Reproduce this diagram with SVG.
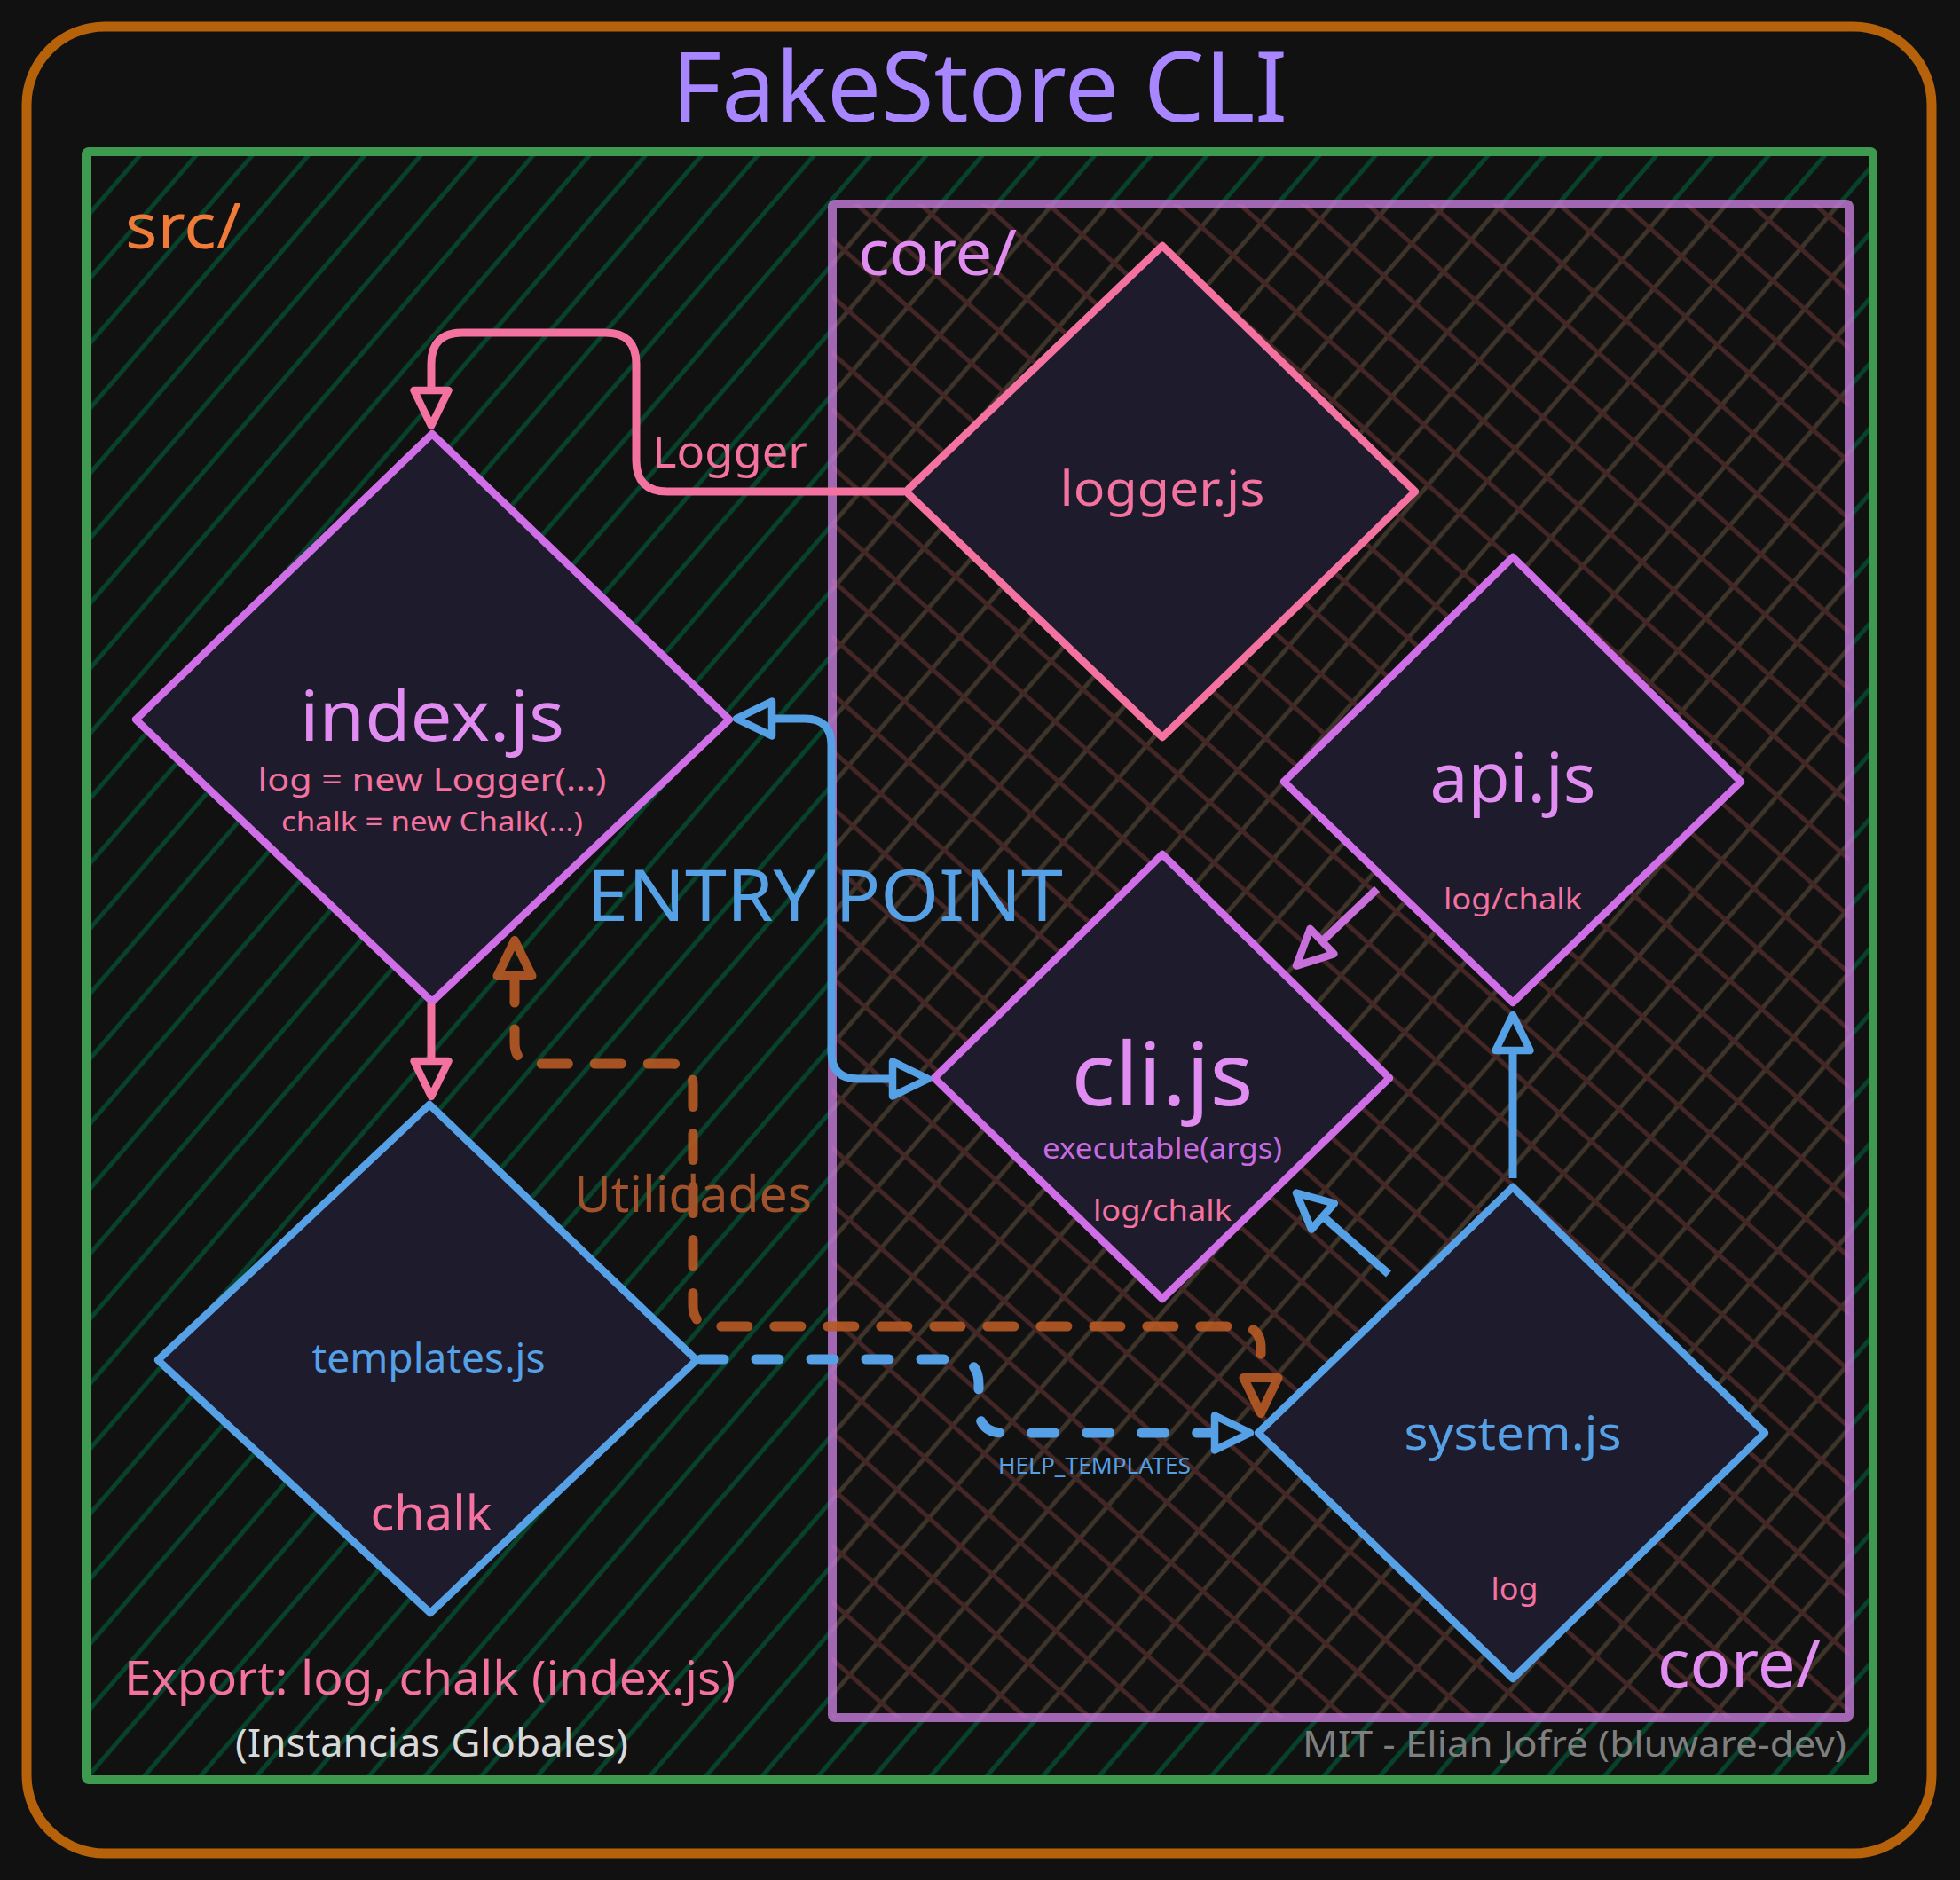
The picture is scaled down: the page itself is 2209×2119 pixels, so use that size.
<svg xmlns="http://www.w3.org/2000/svg" width="2209" height="2119" viewBox="0 0 2209 2119">
<style>
text{font-family:"Noto Sans","Open Sans","Liberation Sans",sans-serif}
.nd{fill:#1e1b2c;stroke-width:8.5;stroke-linejoin:round}
.vi{stroke:#d06ee8}
.pk{stroke:#f372a0}
.bl{stroke:#56a0e6}
.e{fill:none;stroke-width:9}
.tv{fill:#e08cf0}
.tp{fill:#f372a0}
.tb{fill:#56a0e6}
</style>
<defs>
<pattern id="gh" patternUnits="userSpaceOnUse" x="55.8" y="0" width="63.3" height="73.3">
<path d="M-10,84.9 L73.3,-11.6 M-10,11.6 L10,-11.6 M53.3,84.9 L73.3,61.7" stroke="#07432b" stroke-width="5" fill="none"/>
</pattern>
<pattern id="ch1" patternUnits="userSpaceOnUse" x="55.8" y="0" width="63.3" height="73.3">
<path d="M-10,84.9 L73.3,-11.6 M-10,11.6 L10,-11.6 M53.3,84.9 L73.3,61.7" stroke="#3e342a" stroke-width="5" fill="none"/>
</pattern>
<pattern id="ch2" patternUnits="userSpaceOnUse" x="0" y="12.3" width="72" height="64">
<path d="M-10,-8.9 L82,72.9 M-10,55.1 L10,72.9 M62,-8.9 L82,8.9" stroke="#452626" stroke-width="5" fill="none"/>
</pattern>
<marker id="mp" markerUnits="userSpaceOnUse" viewBox="-10 -30 60 60" markerWidth="60" markerHeight="60" refX="0" refY="0" orient="auto-start-reverse">
<path d="M40,0 L0,-19.5 L0,19.5 Z" fill="#111" stroke="#f372a0" stroke-width="8.5" stroke-linejoin="round"/>
</marker>
<marker id="mb" markerUnits="userSpaceOnUse" viewBox="-10 -30 60 60" markerWidth="60" markerHeight="60" refX="0" refY="0" orient="auto-start-reverse">
<path d="M40,0 L0,-19.5 L0,19.5 Z" fill="#111" stroke="#56a0e6" stroke-width="8.5" stroke-linejoin="round"/>
</marker>
<marker id="mv" markerUnits="userSpaceOnUse" viewBox="-10 -30 60 60" markerWidth="60" markerHeight="60" refX="0" refY="0" orient="auto-start-reverse">
<path d="M40,0 L0,-19.5 L0,19.5 Z" fill="#111" stroke="#c86fdc" stroke-width="8.5" stroke-linejoin="round"/>
</marker>
<marker id="mo" markerUnits="userSpaceOnUse" viewBox="-10 -30 60 60" markerWidth="60" markerHeight="60" refX="0" refY="0" orient="auto-start-reverse">
<path d="M40,0 L0,-19.5 L0,19.5 Z" fill="#111" stroke="#b85a24" stroke-width="10" stroke-linejoin="round"/>
</marker>
</defs>
<rect width="2209" height="2119" fill="#111"/>
<g id="frame">
<rect x="30" y="30" width="2147" height="2059" rx="88" fill="#111" stroke="#b5620a" stroke-width="11"/>
<text x="1104" y="137" font-size="110" fill="#a786ff" text-anchor="middle" textLength="694" lengthAdjust="spacingAndGlyphs">FakeStore CLI</text>
</g>
<g id="src">
<rect x="97" y="171" width="2014" height="1835" fill="#111"/>
<rect x="97" y="171" width="2014" height="1835" fill="url(#gh)"/>
<rect x="97" y="171" width="2014" height="1835" rx="3" fill="none" stroke="#3d9a4e" stroke-width="10"/>
<text x="141" y="280" font-size="72" fill="#f07b38" textLength="131" lengthAdjust="spacingAndGlyphs">src/</text>
</g>
<g id="core">
<rect x="938" y="230" width="1146" height="1706" fill="#111"/>
<rect x="938" y="230" width="1146" height="1706" fill="url(#ch1)"/>
<rect x="938" y="230" width="1146" height="1706" fill="url(#ch2)"/>
<rect x="938" y="230" width="1146" height="1706" rx="3" fill="none" stroke="#c77ddb" stroke-opacity="0.8" stroke-width="10"/>
<text x="967" y="310" font-size="72" class="tv" textLength="179" lengthAdjust="spacingAndGlyphs">core/</text>
<text x="1868" y="1902" font-size="74" class="tv" textLength="184" lengthAdjust="spacingAndGlyphs">core/</text>
</g>
<g id="nodes">
<g id="node-logger">
<polygon points="1310,277 1595,554 1310,831 1021,554" class="nd pk"/>
<text x="1310" y="570" font-size="54" class="tp" text-anchor="middle" textLength="231" lengthAdjust="spacingAndGlyphs">logger.js</text>
</g>
<g id="node-index">
<polygon points="487,489 822,811 487,1129 153,811" class="nd vi"/>
<text x="487" y="835" font-size="78" class="tv" text-anchor="middle" textLength="298" lengthAdjust="spacingAndGlyphs">index.js</text>
<text x="487" y="891" font-size="35" class="tp" text-anchor="middle" textLength="393" lengthAdjust="spacingAndGlyphs">log = new Logger(...)</text>
<text x="487" y="937" font-size="30" class="tp" text-anchor="middle" textLength="340" lengthAdjust="spacingAndGlyphs">chalk = new Chalk(...)</text>
</g>
<g id="node-templates">
<polygon points="484,1245 785,1533 485,1818 178,1533" class="nd bl"/>
<text x="483" y="1547" font-size="46" class="tb" text-anchor="middle" textLength="263" lengthAdjust="spacingAndGlyphs">templates.js</text>
<text x="486" y="1725" font-size="54" class="tp" text-anchor="middle" textLength="137" lengthAdjust="spacingAndGlyphs">chalk</text>
</g>
<g id="node-cli">
<polygon points="1310,963 1566,1215 1310,1464 1053,1215" class="nd vi"/>
<text x="1310" y="1246" font-size="98" class="tv" text-anchor="middle" textLength="205" lengthAdjust="spacingAndGlyphs">cli.js</text>
<text x="1310" y="1306" font-size="32" fill="#c96be0" text-anchor="middle" textLength="270" lengthAdjust="spacingAndGlyphs">executable(args)</text>
<text x="1310" y="1376" font-size="33" class="tp" text-anchor="middle" textLength="156" lengthAdjust="spacingAndGlyphs">log/chalk</text>
</g>
<g id="node-api">
<polygon points="1705,628 1962,881 1705,1130 1447,881" class="nd vi"/>
<text x="1705" y="904" font-size="76" class="tv" text-anchor="middle" textLength="187" lengthAdjust="spacingAndGlyphs">api.js</text>
<text x="1705" y="1025" font-size="33" class="tp" text-anchor="middle" textLength="156" lengthAdjust="spacingAndGlyphs">log/chalk</text>
</g>
<g id="node-system">
<polygon points="1705,1338 1989,1615 1705,1892 1418,1615" class="nd bl"/>
<text x="1705" y="1634" font-size="52" class="tb" text-anchor="middle" textLength="245" lengthAdjust="spacingAndGlyphs">system.js</text>
<text x="1707" y="1803" font-size="34" class="tp" text-anchor="middle" textLength="53" lengthAdjust="spacingAndGlyphs">log</text>
</g>
</g>
<g id="connectors">
<path d="M1019,554 H752 Q717,554 717,519 V410 Q717,375 682,375 H521 Q486,375 486,410 V440" class="e pk" marker-end="url(#mp)"/>
<path d="M486,1131 V1196" class="e pk" marker-end="url(#mp)"/>
<path d="M870,810 H907 Q937,810 937,840 V1186 Q937,1216 967,1216 H1006" class="e bl" marker-start="url(#mb)" marker-end="url(#mb)"/>
<path d="M1552,1002 L1490,1061" class="e" stroke="#c86fdc" marker-end="url(#mv)"/>
<path d="M1705,1328 V1184" class="e bl" marker-end="url(#mb)"/>
<path d="M1565,1436 L1491,1371" class="e bl" marker-end="url(#mb)"/>
<path d="M790,1532 H1075 Q1103,1532 1103,1560 V1587 Q1103,1615 1131,1615 H1369" fill="none" stroke="#56a0e6" stroke-width="11" stroke-linecap="round" stroke-dasharray="26 36" marker-end="url(#mb)"/>
<g opacity="0.9">
<path d="M580,1100 V1175 Q580,1199 604,1199 H757 Q781,1199 781,1223 V1471 Q781,1495 805,1495 H1397 Q1421,1495 1421,1519 V1553" fill="none" stroke="#b85a24" stroke-width="11" stroke-linecap="round" stroke-dasharray="30 30" marker-start="url(#mo)" marker-end="url(#mo)"/>
</g>
<text x="735" y="527" font-size="50" class="tp" textLength="175" lengthAdjust="spacingAndGlyphs">Logger</text>
<text x="661" y="1038" font-size="80" class="tb" textLength="537" lengthAdjust="spacingAndGlyphs">ENTRY POINT</text>
<text x="647" y="1366" font-size="56" fill="#a0522d" textLength="268" lengthAdjust="spacingAndGlyphs">Utilidades</text>
<text x="1125" y="1661" font-size="25" class="tb" textLength="217" lengthAdjust="spacingAndGlyphs">HELP_TEMPLATES</text>
</g>
<g id="notes">
<text x="140" y="1910" font-size="52" class="tp" textLength="689" lengthAdjust="spacingAndGlyphs">Export: log, chalk (index.js)</text>
<text x="265" y="1980" font-size="44" fill="#d9d9d9" textLength="443" lengthAdjust="spacingAndGlyphs">(Instancias Globales)</text>
<text x="1468" y="1980" font-size="40" fill="#7f7f7f" textLength="613" lengthAdjust="spacingAndGlyphs">MIT - Elian Jofré (bluware-dev)</text>
</g>
</svg>
